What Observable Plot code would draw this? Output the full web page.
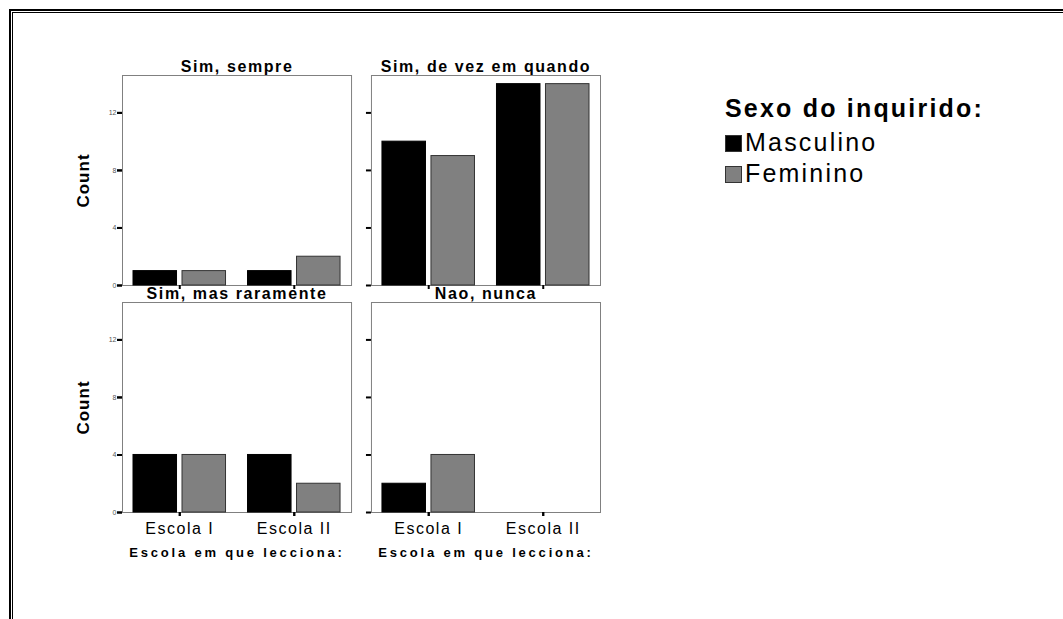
<!DOCTYPE html>
<html>
<head>
<meta charset="utf-8">
<script src="https://cdn.jsdelivr.net/npm/d3@7"></script>
<script src="https://cdn.jsdelivr.net/npm/@observablehq/plot@0.6"></script>
<style>
  html, body { margin: 0; padding: 0; background: #fff; overflow: hidden; }
  body { width: 1063px; height: 619px; position: relative; font-family: "Liberation Sans", Arial, sans-serif; }
  #chart { position: absolute; left: 0; top: 0; }
  .frame-outer { position: absolute; left: 9px; top: 9px; width: 3000px; height: 3000px; border-left: 2px solid #000; border-top: 2px solid #000; pointer-events: none; }
  .frame-inner { position: absolute; left: 12px; top: 12px; width: 3000px; height: 3000px; border-left: 1px solid #000; border-top: 1px solid #000; pointer-events: none; }
  #legend { position: absolute; left: 725px; top: 96px; color: #000; }
  #legend .title { font-weight: bold; font-size: 25px; line-height: 25px; letter-spacing: 2.2px; white-space: nowrap; }
  #legend .item { display: flex; align-items: flex-end; height: 31px; font-size: 25px; line-height: 25px; letter-spacing: 2.2px; white-space: nowrap; }
  #legend .item.first { margin-top: 3px; }
  #legend .sw { width: 17px; height: 17px; border: 1px solid #333; box-sizing: border-box; margin-right: 3px; margin-bottom: 3px; }
</style>
</head>
<body>
<div id="chart"></div>
<div id="legend"></div>
<div class="frame-outer"></div>
<div class="frame-inner"></div>
<script>
const panelTitles = ["Sim, sempre", "Sim, de vez em quando", "Sim, mas raramente", "Nao, nunca"];
const schools = ["Escola I", "Escola II"];
const sexes = ["Masculino", "Feminino"];
// counts per panel: [Escola I, Escola II]
const masculino = [[1, 1], [10, 14], [4, 4], [2, 0]];
const feminino = [[1, 2], [9, 14], [4, 2], [4, 0]];
const yTicks = [0, 4, 8, 12];
const yLabel = "Count";
const xLabel = "Escola em que lecciona:";
const legendTitle = "Sexo do inquirido:";
const sexColors = ["#000000", "#808080"];

const table = [];
panelTitles.forEach((title, p) => {
  schools.forEach((school, s) => {
    [masculino, feminino].forEach((series, k) => {
      table.push({panel: title, col: p % 2, row: Math.floor(p / 2), school, sex: sexes[k], count: series[p][s]});
    });
  });
});
const panels = panelTitles.map((title, p) => ({title, col: p % 2, row: Math.floor(p / 2)}));

const chart = Plot.plot({
  width: 1063,
  height: 619,
  marginLeft: 122,
  marginRight: 463,
  marginTop: 75,
  marginBottom: 107,
  style: {fontFamily: "'Liberation Sans', Arial, sans-serif", background: "transparent", color: "#000", overflow: "visible"},
  fx: {axis: null, domain: [0, 1], paddingInner: 0.08, paddingOuter: 0, round: false},
  fy: {axis: null, domain: [0, 1], paddingInner: 0.075, paddingOuter: 0, round: false},
  x: {domain: schools, paddingInner: 0, paddingOuter: 0, round: false, axis: null},
  y: {domain: [0, 14.6], axis: null},
  color: {domain: sexes, range: sexColors},
  marks: [
    Plot.frame({stroke: "#808080", strokeWidth: 1}),
    Plot.barY(table.filter(d => d.sex === sexes[0] && d.count > 0), {
      fx: "col", fy: "row", x: "school", y: "count", fill: "sex",
      stroke: "#000", strokeWidth: 1, insetLeft: 11, insetRight: 60
    }),
    Plot.barY(table.filter(d => d.sex === sexes[1] && d.count > 0), {
      fx: "col", fy: "row", x: "school", y: "count", fill: "sex",
      stroke: "#333", strokeWidth: 1, insetLeft: 60, insetRight: 11
    }),
    Plot.axisY({ticks: yTicks, tickSize: 5, strokeWidth: 2, stroke: "#000", tickFormat: () => "", facetAnchor: null, label: null}),
    Plot.axisY({ticks: yTicks, tickSize: 5, tickPadding: 1, strokeWidth: 2, stroke: "#000", fill: "#555", fontSize: 7, facetAnchor: "left", label: null}),
    Plot.axisX({tickSize: 4, strokeWidth: 2, stroke: "#000", tickFormat: () => "", facetAnchor: null, label: null}),
    Plot.axisX({tickSize: 4, tickPadding: 6, strokeWidth: 2, stroke: "#000", fill: "#000", fontSize: 16, facetAnchor: "bottom", label: null}),
    Plot.text(panels, {fx: "col", fy: "row", text: "title", frameAnchor: "top", lineAnchor: "bottom", dy: -4, fontSize: 16, fontWeight: "bold", fill: "#000"}),
    Plot.text(panels.filter(d => d.col === 0), {fx: "col", fy: "row", text: () => yLabel, frameAnchor: "left", textAnchor: "middle", lineAnchor: "middle", rotate: -90, dx: -39, fontSize: 17, fontWeight: "bold", fill: "#000"}),
    Plot.text(panels.filter(d => d.row === 1), {fx: "col", fy: "row", text: () => xLabel, frameAnchor: "bottom", lineAnchor: "bottom", dy: 44, fontSize: 13, fontWeight: "bold", fill: "#000"})
  ]
});

chart.querySelectorAll("text").forEach(t => {
  const s = t.textContent;
  if (s === xLabel) t.style.letterSpacing = "2.8px";
  else if (panelTitles.includes(s)) t.style.letterSpacing = "1.6px";
  else if (schools.includes(s)) t.style.letterSpacing = "1.5px";
  else if (s === yLabel) t.style.letterSpacing = "1px";
});
document.getElementById("chart").appendChild(chart);

const legend = document.getElementById("legend");
const lt = document.createElement("div");
lt.className = "title";
lt.textContent = legendTitle;
legend.appendChild(lt);
sexes.forEach((s, i) => {
  const item = document.createElement("div");
  item.className = "item" + (i === 0 ? " first" : "");
  const sw = document.createElement("div");
  sw.className = "sw";
  sw.style.background = sexColors[i];
  item.appendChild(sw);
  const tx = document.createElement("span");
  tx.textContent = s;
  item.appendChild(tx);
  legend.appendChild(item);
});
</script>
</body>
</html>
